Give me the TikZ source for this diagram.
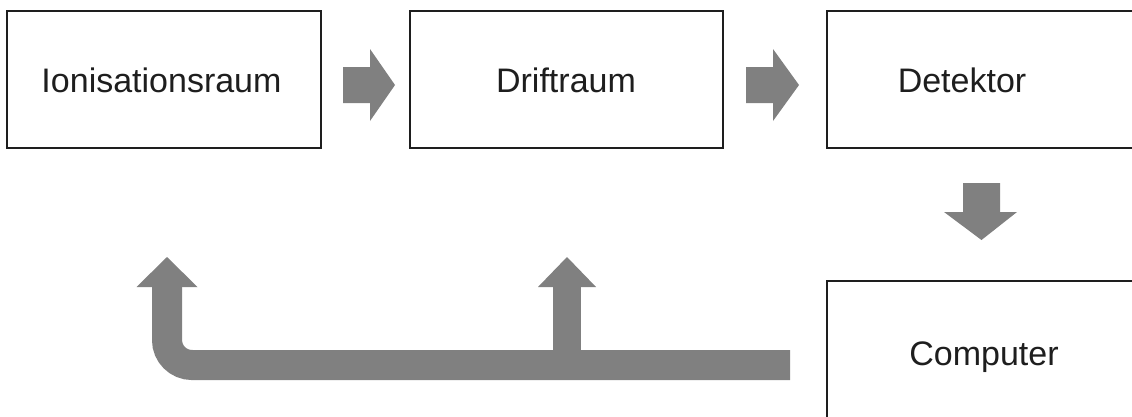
\documentclass[tikz,border=0pt]{standalone}
\usepackage{fontspec}
\setmainfont{Liberation Sans}
\definecolor{flowgray}{RGB}{128,128,128}
\definecolor{inkcol}{RGB}{30,30,30}
\tikzset{
  stagebox/.style={draw=inkcol, line width=1.7pt, fill=none, inner sep=0pt},
  stagelabel/.style={anchor=base, inner sep=0pt, text=inkcol,
    font=\fontsize{34}{40}\selectfont},
  blockarrow/.style={fill=flowgray, draw=none},
  flowline/.style={draw=flowgray, line width=30pt}
}
\begin{document}
\begin{tikzpicture}[x=1pt, y=-1pt]
  \useasboundingbox[fill=white] (0,0) rectangle (1132,416);

  % stage boxes
  \node[stagebox, minimum width=314pt, minimum height=137pt] (ion)  at (164,79.5) {};
  \node[stagebox, minimum width=313pt, minimum height=137pt] (drift) at (566.5,79.5) {};
  \node[stagebox, minimum width=314pt, minimum height=137pt] (det)  at (984,79.5) {};
  \node[stagebox, minimum width=314pt, minimum height=140pt] (comp) at (984,351) {};

  % labels
  \node[stagelabel] (ionlabel)   at (161.5,92) {Ionisationsraum};
  \node[stagelabel] (driftlabel) at (566,92)   {Driftraum};
  \node[stagelabel] (detlabel)   at (962,92)   {Detektor};
  \node[stagelabel] (complabel)  at (984,365)  {Computer};

  % block arrows between the stages
  \fill[blockarrow] (343,67) -- (370,67) -- (370,49) -- (395,85)
                    -- (370,121) -- (370,103) -- (343,103) -- cycle;
  \fill[blockarrow] (746,67) -- (773,67) -- (773,49) -- (799,85)
                    -- (773,121) -- (773,103) -- (746,103) -- cycle;
  \fill[blockarrow] (963,183) -- (1000,183) -- (1000,212) -- (1017,212)
                    -- (981.5,240) -- (944,212) -- (963,212) -- cycle;

  % feedback path from the computer
  \coordinate (fbstart) at (790,365);
  \coordinate (fbturn)  at (167,365);
  \coordinate (fbleft)  at (167,286);
  \coordinate (fbmidA)  at (567,366);
  \coordinate (fbmidB)  at (567,286);
  \draw[flowline, rounded corners=25pt] (fbstart) -- (fbturn) -- (fbleft);
  \draw[draw=flowgray, line width=28pt] (fbmidA) -- (fbmidB);
  \fill[blockarrow] (136.5,287) -- (197.5,287) -- (167,257) -- cycle;
  \fill[blockarrow] (538,287) -- (596,287) -- (567,257) -- cycle;
\end{tikzpicture}
\end{document}
